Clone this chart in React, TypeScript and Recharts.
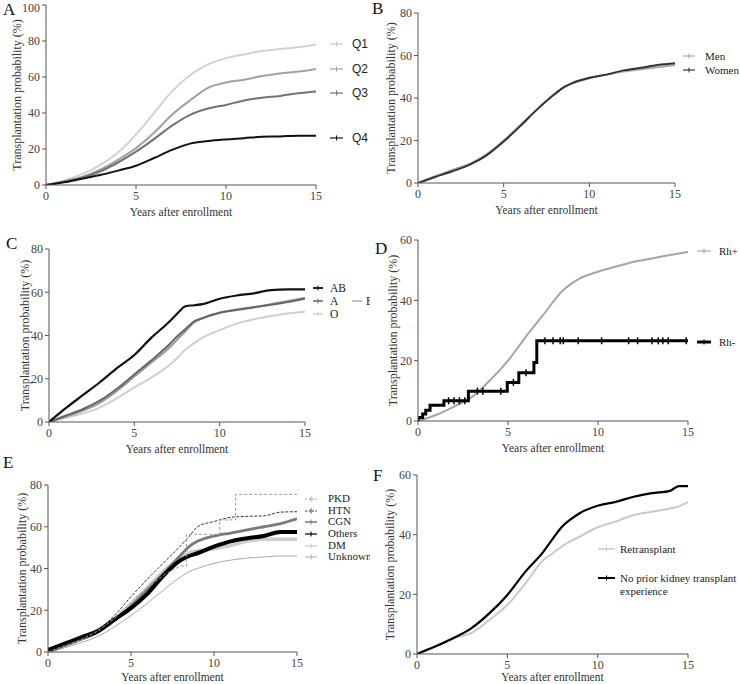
import { LineChart, Line, XAxis, YAxis } from 'recharts'

// ---- data ----
const YEARS = [0, 1, 2, 3, 4, 5, 6, 7, 8, 9, 10, 11, 12, 13, 14, 15]

// A: quartiles
const Q1 = [0, 2.5, 6, 11, 18, 28, 40, 52, 61, 67, 70.5, 72.5, 74.5, 75.5, 76.5, 78]
const Q2 = [0, 2, 4.5, 8.5, 14, 20.5, 29, 39, 47, 54, 57, 58.5, 60.5, 62, 63, 64.5]
const Q3 = [0, 1.8, 4, 7.5, 12.5, 18.5, 25.5, 33, 39, 42.5, 44.5, 47, 48.5, 49.5, 51, 52]
const Q4 = [0, 1.5, 3.5, 5.5, 8, 10.7, 15, 19.5, 23, 24.4, 25.3, 26, 26.8, 27, 27.4, 27.4]

// B: sex
const YEARS_B = [0, 1, 2, 3, 4, 5, 6, 7, 8, 8.5, 9, 10, 11, 12, 13, 14, 15]
const MEN = [0, 3.2, 6.2, 9, 13.5, 20, 27.5, 35, 42, 45, 46.8, 49.3, 51, 52.5, 53.5, 54.5, 55.5]
const WOMEN = [0, 2.8, 5.5, 8.5, 13, 19.5, 27, 35, 42, 45, 47, 49.5, 51, 53, 54.2, 55.5, 56.3]

// C: ABO blood type
const YEARS_C = [0, 1, 2, 3, 4, 5, 6, 7, 7.5, 8, 8.5, 9, 10, 11, 12, 13, 14, 15]
const TYPE_AB = [0, 6.5, 12.5, 18.5, 25, 31, 39, 46, 50, 53.5, 54, 54.5, 57, 58.5, 59.5, 61, 61.3, 61.3]
const TYPE_A = [0, 3, 6, 10, 15.5, 22, 28.5, 35.5, 39.5, 43, 46.5, 48, 50.5, 51.8, 53, 54.2, 55.5, 57]
const TYPE_B = [0, 2.5, 5.3, 9, 14.5, 21, 27.5, 34, 38, 42, 46, 48, 50.5, 52, 53.2, 54.5, 56, 57.5]
const TYPE_O = [0, 2, 4, 6.8, 11, 16, 20.5, 26, 29.5, 33.5, 36.5, 39, 42.5, 45.5, 47.5, 49, 50.2, 51]

// D: Rh
const RH_POS = [0, 2, 4.8, 8, 13.5, 20, 28, 35.5, 43, 47.3, 49.5, 51.2, 52.8, 53.9, 55, 56]
const RH_NEG_X = [0, 0.02, 0.26, 0.43, 0.67, 1.44, 2.8, 4.96, 5.6, 6.44, 6.6, 15]
const RH_NEG_Y = [0, 1.2, 2.3, 3.6, 5.2, 6.7, 9.9, 12.8, 16, 19.4, 26.6, 26.6]
const RH_CENSOR_X = [1.7, 2.0, 2.3, 2.6, 3.3, 3.6, 4.6, 5.3, 6.0, 7.05, 7.5, 7.9, 8.07, 8.9, 10.2, 11.7, 12.2, 13.0, 13.35, 13.6, 13.9, 14.9]
const RH_CENSOR_Y = [6.7, 6.7, 6.7, 6.7, 9.9, 9.9, 9.9, 12.8, 16, 26.6, 26.6, 26.6, 26.6, 26.6, 26.6, 26.6, 26.6, 26.6, 26.6, 26.6, 26.6, 26.6]

// E: primary disease
const YEARS_E = [0, 1, 2, 3, 4, 5, 6, 7, 8, 8.5, 9, 10, 11, 12, 13, 14, 15]
const PKD_X = [0, 1, 2, 3, 4, 5, 6, 7, 8, 8.35, 8.35, 10.35, 10.35, 11.3, 11.3, 15]
const PKD_Y = [0, 3, 6, 10, 16, 24, 31, 37, 41.3, 41.3, 56.4, 56.4, 63.3, 63.3, 75.5, 75.5]
const HTN = [0, 3, 6.5, 10.5, 17.5, 26.5, 35, 43, 51, 55.3, 60, 62.5, 64.5, 65, 65.2, 67, 67.2]
const CGN = [0, 3, 6, 9.5, 15, 22, 30, 38, 46.5, 50.5, 53, 55.5, 57, 58.5, 60, 61.5, 63.8]
const OTHERS = [1, 4, 7, 10, 15.5, 21, 28, 37, 44, 46, 47.3, 50.5, 53, 54.5, 55.6, 57.5, 57.5]
const DM = [0, 3.5, 7, 10.5, 16, 23, 31, 39, 45, 47.5, 48.5, 49.5, 51, 53, 54, 54, 54]
const UNKNOWN = [0, 2, 4.5, 7.5, 12, 17.5, 23.5, 30, 36, 38.5, 40, 42.5, 44, 45, 45.5, 46, 46]

// F: prior transplant
const YEARS_F = [0, 1, 2, 3, 4, 5, 6, 7, 7.5, 8, 8.5, 9, 10, 11, 12, 13, 14, 14.5, 15]
const NO_PRIOR = [0, 2.5, 5.3, 8.6, 13.6, 19.8, 27.6, 34.3, 38.5, 42.5, 45.1, 47.2, 49.7, 51, 52.7, 53.9, 54.7, 56.3, 56.3]
const RETRANSPLANT = [0, 2.5, 5.3, 7, 11.4, 16.4, 23.7, 31.5, 33.7, 36, 37.8, 39.3, 42.5, 44.4, 46.6, 47.7, 48.8, 49.5, 51]

const X_TICKS = [0, 5, 10, 15]

const pts = (xs: number[], ys: number[]) => xs.map((x, i) => ({ x, y: ys[i] }))

const SERIF = '"Liberation Serif", "Times New Roman", serif'
const SANS = '"Liberation Sans", Arial, sans-serif'
const AXIS = '#555'

interface Series {
  name: string
  data: { x: number; y: number }[]
  color: string
  width: number
  dash?: string
  type?: 'monotone' | 'linear' | 'stepAfter'
  dot?: any
}

interface Box { left: number; top: number; width: number; height: number }
interface Plot { x0: number; x1: number; y0: number; y1: number }

interface LegendEntry { label: string; y: number; color: string; width: number; dash?: string; lines?: string[] }

interface PanelProps {
  letter: string
  letterPos: [number, number]
  box: Box
  plot: Plot
  yMax: number
  yTicks: number[]
  yLabelX: number
  xLabelBase: number
  series: Series[]
  legend: LegendEntry[]
  legendLine: [number, number]
  legendText: number
  legendFont?: string
  legendSize?: number
  legendLineHeight?: number
}

function censorTick(color: string) {
  return (p: any) => (
    <line key={`c-${p.index}`} x1={p.cx} x2={p.cx} y1={p.cy - 3.5} y2={p.cy + 3.5} stroke={color} strokeWidth={1.5} />
  )
}

function Panel({
  letter, letterPos, box, plot, yMax, yTicks, yLabelX, xLabelBase, series, legend, legendLine, legendText,
  legendFont = SERIF, legendSize = 11.5, legendLineHeight = 13,
}: PanelProps) {
  const yW = 40
  const margin = { top: plot.y0 - box.top, left: plot.x0 - box.left - yW, right: box.left + box.width - plot.x1, bottom: 0 }
  const xH = box.top + box.height - plot.y1
  const tick = { fontFamily: SERIF, fontSize: 12, fill: '#444' }
  const lw = legendLine[1] - legendLine[0]
  return (
    <div style={{ position: 'absolute', left: box.left, top: box.top, width: box.width, height: box.height, overflow: 'hidden' }}>
      <LineChart width={box.width} height={box.height} margin={margin} style={{ fontFamily: SERIF }}>
        <XAxis
          type="number"
          dataKey="x"
          domain={[0, 15]}
          ticks={X_TICKS}
          height={xH}
          tick={tick}
          tickSize={4}
          stroke={AXIS}
          allowDataOverflow
          label={{
            value: 'Years after enrollment',
            position: 'insideBottom',
            offset: box.top + box.height - xLabelBase,
            style: { fontFamily: SERIF, fontSize: 11.5, fill: '#333' },
          }}
        />
        <YAxis
          type="number"
          domain={[0, yMax]}
          ticks={yTicks}
          width={yW}
          tick={tick}
          tickSize={4}
          stroke={AXIS}
          allowDataOverflow
          label={{
            value: 'Transplantation probability (%)',
            angle: -90,
            position: 'insideLeft',
            offset: yLabelX - box.left - margin.left,
            style: { textAnchor: 'middle', fontFamily: SERIF, fontSize: 12, fill: '#333' },
          }}
        />
        {series.map((s) => (
          <Line
            key={s.name}
            name={s.name}
            data={s.data}
            dataKey="y"
            type={s.type ?? 'monotone'}
            stroke={s.color}
            strokeWidth={s.width}
            strokeDasharray={s.dash}
            dot={s.dot ?? false}
            activeDot={false}
            isAnimationActive={false}
          />
        ))}
      </LineChart>
      <div
        style={{
          position: 'absolute',
          left: letterPos[0] - box.left,
          top: letterPos[1] - box.top - 8,
          fontFamily: SERIF,
          fontSize: 17,
          lineHeight: '17px',
          color: '#111',
        }}
      >
        {letter}
      </div>
      {legend.map((l) => (
        <div key={l.label}>
          <svg style={{ position: 'absolute', left: legendLine[0] - box.left, top: l.y - box.top - 4 }} width={lw} height={8}>
            <line x1={0} x2={lw} y1={4} y2={4} stroke={l.color} strokeWidth={l.width} strokeDasharray={l.dash} />
            <line x1={lw / 2} x2={lw / 2} y1={1.5} y2={6.5} stroke={l.color} strokeWidth={1} />
          </svg>
          <div
            style={{
              position: 'absolute',
              left: legendText - box.left,
              top: l.y - box.top - legendLineHeight / 2,
              fontFamily: legendFont,
              fontSize: legendSize,
              lineHeight: `${legendLineHeight}px`,
              color: '#222',
              whiteSpace: 'nowrap',
            }}
          >
            {(l.lines ?? [l.label]).map((t) => (
              <div key={t}>{t}</div>
            ))}
          </div>
        </div>
      ))}
    </div>
  )
}

export default function App() {
  const rhNeg = pts(RH_NEG_X, RH_NEG_Y)
  const rhCensor = pts(RH_CENSOR_X, RH_CENSOR_Y)
  return (
    <div style={{ position: 'absolute', left: 0, top: 0, width: 740, height: 684, background: '#fff', overflow: 'hidden', fontFamily: SERIF }}>
      <Panel
        letter="A"
        letterPos={[3, 9]}
        box={{ left: 0, top: 0, width: 370, height: 225 }}
        plot={{ x0: 46, x1: 316, y0: 5, y1: 185 }}
        yMax={100}
        yTicks={[0, 20, 40, 60, 80, 100]}
        yLabelX={17}
        xLabelBase={216}
        series={[
          { name: 'Q1', data: pts(YEARS, Q1), color: '#d2d2d2', width: 2 },
          { name: 'Q2', data: pts(YEARS, Q2), color: '#a2a2a2', width: 2 },
          { name: 'Q3', data: pts(YEARS, Q3), color: '#727272', width: 2 },
          { name: 'Q4', data: pts(YEARS, Q4), color: '#111', width: 2 },
        ]}
        legend={[
          { label: 'Q1', y: 44, color: '#c8c8c8', width: 1.2 },
          { label: 'Q2', y: 69, color: '#a0a0a0', width: 1.2 },
          { label: 'Q3', y: 93, color: '#707070', width: 1.2 },
          { label: 'Q4', y: 138, color: '#111', width: 1.2 },
        ]}
        legendLine={[330, 343]}
        legendText={352}
        legendFont={SANS}
        legendSize={12}
      />
      <Panel
        letter="B"
        letterPos={[372, 8]}
        box={{ left: 370, top: 0, width: 370, height: 225 }}
        plot={{ x0: 418, x1: 675, y0: 13, y1: 183 }}
        yMax={80}
        yTicks={[0, 20, 40, 60, 80]}
        yLabelX={391}
        xLabelBase={214}
        series={[
          { name: 'Men', data: pts(YEARS_B, MEN), color: '#a8a8a8', width: 2 },
          { name: 'Women', data: pts(YEARS_B, WOMEN), color: '#333', width: 2 },
        ]}
        legend={[
          { label: 'Men', y: 56, color: '#a8a8a8', width: 1.2 },
          { label: 'Women', y: 70, color: '#333', width: 1.2 },
        ]}
        legendLine={[683, 695]}
        legendText={705}
        legendSize={11}
      />
      <Panel
        letter="C"
        letterPos={[6, 243]}
        box={{ left: 0, top: 230, width: 370, height: 230 }}
        plot={{ x0: 49, x1: 305, y0: 249, y1: 422 }}
        yMax={80}
        yTicks={[0, 20, 40, 60, 80]}
        yLabelX={25}
        xLabelBase={453}
        series={[
          { name: 'O', data: pts(YEARS_C, TYPE_O), color: '#cfcfcf', width: 2 },
          { name: 'B', data: pts(YEARS_C, TYPE_B), color: '#9a9a9a', width: 2 },
          { name: 'A', data: pts(YEARS_C, TYPE_A), color: '#666', width: 2 },
          { name: 'AB', data: pts(YEARS_C, TYPE_AB), color: '#111', width: 2.2 },
        ]}
        legend={[
          { label: 'AB', y: 288, color: '#111', width: 1.8 },
          { label: 'A', y: 301, color: '#666', width: 1.5 },
          { label: 'O', y: 314, color: '#cfcfcf', width: 1.5 },
        ]}
        legendLine={[313, 323]}
        legendText={330}
        legendSize={11.5}
      />
      {/* "B" entry of panel C, clipped at the panel edge */}
      <div style={{ position: 'absolute', left: 0, top: 230, width: 370, height: 230, overflow: 'hidden', pointerEvents: 'none' }}>
        <svg style={{ position: 'absolute', left: 352, top: 301 - 230 - 4 }} width={10} height={8}>
          <line x1={0} x2={10} y1={4} y2={4} stroke="#9a9a9a" strokeWidth={1.2} />
        </svg>
        <div style={{ position: 'absolute', left: 366, top: 301 - 230 - 6.5, fontFamily: SERIF, fontSize: 11.5, lineHeight: '13px', color: '#222' }}>B</div>
      </div>
      <Panel
        letter="D"
        letterPos={[375, 248]}
        box={{ left: 370, top: 230, width: 370, height: 230 }}
        plot={{ x0: 418, x1: 688, y0: 240, y1: 421 }}
        yMax={60}
        yTicks={[0, 20, 40, 60]}
        yLabelX={393}
        xLabelBase={452}
        series={[
          { name: 'Rh+', data: pts(YEARS, RH_POS), color: '#a5a5a5', width: 2 },
          { name: 'Rh-', data: rhNeg, color: '#000', width: 3, type: 'stepAfter' },
          { name: 'Rh- censored', data: rhCensor, color: 'none', width: 0, type: 'linear', dot: censorTick('#000') },
        ]}
        legend={[
          { label: 'Rh+', y: 251, color: '#a5a5a5', width: 1.2 },
          { label: 'Rh-', y: 342, color: '#000', width: 3 },
        ]}
        legendLine={[697, 711]}
        legendText={719}
        legendSize={11}
      />
      <Panel
        letter="E"
        letterPos={[3, 462]}
        box={{ left: 0, top: 450, width: 370, height: 234 }}
        plot={{ x0: 48, x1: 297, y0: 485, y1: 652 }}
        yMax={80}
        yTicks={[0, 20, 40, 60, 80]}
        yLabelX={22}
        xLabelBase={681}
        series={[
          { name: 'Unknown', data: pts(YEARS_E, UNKNOWN), color: '#a8a8a8', width: 1 },
          { name: 'DM', data: pts(YEARS_E, DM), color: '#cdcdcd', width: 3.5 },
          { name: 'CGN', data: pts(YEARS_E, CGN), color: '#7a7a7a', width: 2.8 },
          { name: 'Others', data: pts(YEARS_E, OTHERS), color: '#000', width: 4 },
          { name: 'HTN', data: pts(YEARS_E, HTN), color: '#333', width: 1, dash: '3 1.5' },
          { name: 'PKD', data: pts(PKD_X, PKD_Y), color: '#9a9a9a', width: 1, dash: '3 2', type: 'linear' },
        ]}
        legend={[
          { label: 'PKD', y: 499, color: '#9a9a9a', width: 1, dash: '2 1.5' },
          { label: 'HTN', y: 511, color: '#333', width: 1, dash: '2 1.5' },
          { label: 'CGN', y: 522, color: '#7a7a7a', width: 1.5 },
          { label: 'Others', y: 534, color: '#000', width: 1.2 },
          { label: 'DM', y: 546, color: '#c8c8c8', width: 1.2 },
          { label: 'Unknown', y: 557, color: '#a8a8a8', width: 1 },
        ]}
        legendLine={[305, 317]}
        legendText={328}
        legendSize={11}
        legendLineHeight={11.5}
      />
      <Panel
        letter="F"
        letterPos={[373, 475]}
        box={{ left: 370, top: 450, width: 370, height: 234 }}
        plot={{ x0: 417, x1: 688, y0: 475, y1: 654 }}
        yMax={60}
        yTicks={[0, 20, 40, 60]}
        yLabelX={390}
        xLabelBase={681}
        series={[
          { name: 'Retransplant', data: pts(YEARS_F, RETRANSPLANT), color: '#cacaca', width: 2 },
          { name: 'No prior kidney transplant experience', data: pts(YEARS_F, NO_PRIOR), color: '#000', width: 2.2 },
        ]}
        legend={[
          { label: 'Retransplant', y: 549, color: '#cacaca', width: 1.5 },
          { label: 'No prior', y: 578, color: '#000', width: 2, lines: ['No prior kidney transplant', 'experience'] },
        ]}
        legendLine={[598, 615]}
        legendText={620}
        legendSize={11}
      />
    </div>
  )
}
